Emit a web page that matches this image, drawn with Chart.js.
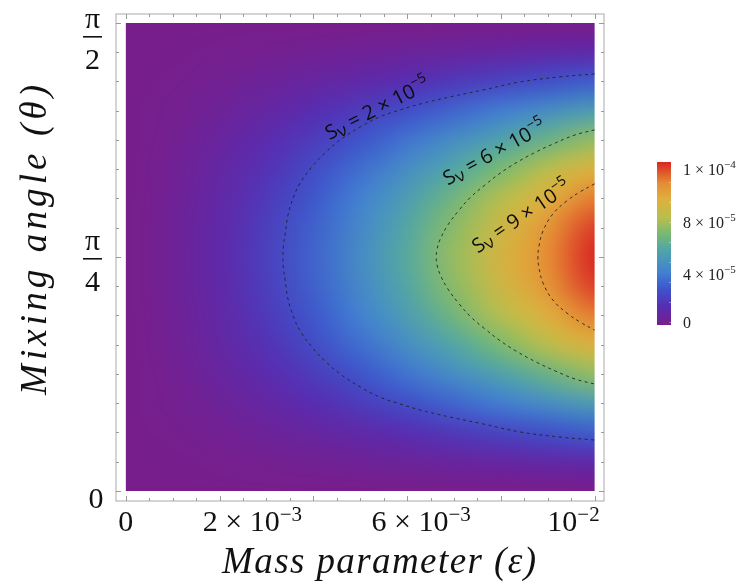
<!DOCTYPE html>
<html>
<head>
<meta charset="utf-8">
<script src="https://cdn.jsdelivr.net/npm/chart.js@4.4.1/dist/chart.umd.min.js"></script>
<style>
html, body { margin: 0; padding: 0; background: #fff; }
#wrap { width: 747px; height: 588px; position: relative; }
</style>
</head>
<body>
<div id="wrap"><canvas id="chart"></canvas></div>
<script>
// grid of the density plot: S_v in units of 1e-5, rows = theta (0 .. pi/2), cols = epsilon
const epsilon = [0, 0.001, 0.002, 0.003, 0.004, 0.005, 0.006, 0.007, 0.008, 0.009, 0.010];
const theta = [0, 0.0982, 0.1963, 0.2945, 0.3927, 0.4909, 0.5890, 0.6872, 0.7854,
               0.8836, 0.9817, 1.0799, 1.1781, 1.2763, 1.3744, 1.4726, 1.5708];
const sv = [
  [0, 0,    0,    0,    0,    0,    0,    0,    0,    0,    0    ],
  [0, 0.03, 0.09, 0.16, 0.24, 0.35, 0.46, 0.58, 0.70, 0.83, 0.95 ],
  [0, 0.08, 0.23, 0.42, 0.65, 0.92, 1.22, 1.55, 1.87, 2.21, 2.54 ],
  [0, 0.14, 0.40, 0.74, 1.15, 1.64, 2.17, 2.74, 3.32, 3.91, 4.51 ],
  [0, 0.20, 0.57, 1.06, 1.63, 2.33, 3.09, 3.90, 4.72, 5.57, 6.41 ],
  [0, 0.25, 0.73, 1.34, 2.07, 2.95, 3.90, 4.93, 5.97, 7.04, 8.11 ],
  [0, 0.29, 0.85, 1.56, 2.40, 3.43, 4.54, 5.74, 6.94, 8.19, 9.43 ],
  [0, 0.32, 0.92, 1.70, 2.62, 3.73, 4.95, 6.26, 7.57, 8.92, 10.28],
  [0, 0.33, 0.95, 1.75, 2.70, 3.85, 5.10, 6.45, 7.80, 9.20, 10.60],
  [0, 0.32, 0.92, 1.70, 2.62, 3.73, 4.95, 6.26, 7.57, 8.92, 10.28],
  [0, 0.29, 0.85, 1.56, 2.40, 3.43, 4.54, 5.74, 6.94, 8.19, 9.43 ],
  [0, 0.25, 0.73, 1.34, 2.07, 2.95, 3.90, 4.93, 5.97, 7.04, 8.11 ],
  [0, 0.20, 0.57, 1.06, 1.63, 2.33, 3.09, 3.90, 4.72, 5.57, 6.41 ],
  [0, 0.14, 0.40, 0.74, 1.15, 1.64, 2.17, 2.74, 3.32, 3.91, 4.51 ],
  [0, 0.08, 0.23, 0.42, 0.65, 0.92, 1.22, 1.55, 1.87, 2.21, 2.54 ],
  [0, 0.03, 0.09, 0.16, 0.24, 0.35, 0.46, 0.58, 0.70, 0.83, 0.95 ],
  [0, 0,    0,    0,    0,    0,    0,    0,    0,    0,    0    ]
];
const sMax = 10.6;

// dashed contour lines (epsilon, theta)
const c2Eps   = [0.0100, 0.00926, 0.00841, 0.00762, 0.00692, 0.00628, 0.00585, 0.00542, 0.00500,
                 0.00457, 0.00425, 0.00397, 0.00372, 0.00357, 0.00346, 0.00340, 0.00336, 0.00335,
                 0.00336, 0.00340, 0.00346, 0.00357, 0.00372, 0.00397, 0.00425, 0.00457, 0.00500,
                 0.00542, 0.00585, 0.00628, 0.00692, 0.00762, 0.00841, 0.00926, 0.0100];
const c2Theta = [1.400, 1.390, 1.373, 1.346, 1.323, 1.299, 1.279, 1.256, 1.222,
                 1.178, 1.135, 1.088, 1.034, 0.984, 0.927, 0.866, 0.820, 0.785,
                 0.751, 0.705, 0.644, 0.587, 0.537, 0.483, 0.436, 0.393, 0.349,
                 0.315, 0.292, 0.272, 0.248, 0.225, 0.198, 0.181, 0.171];
const c6Eps   = [0.0100, 0.00958, 0.00916, 0.00875, 0.00832, 0.00796, 0.00766, 0.00736, 0.00711,
                 0.00687, 0.00670, 0.00664, 0.00662,
                 0.00664, 0.00670, 0.00687, 0.00711, 0.00736, 0.00766, 0.00796, 0.00832, 0.00875,
                 0.00916, 0.00958, 0.0100];
const c6Theta = [1.212, 1.195, 1.168, 1.138, 1.101, 1.064, 1.027, 0.987, 0.943,
                 0.893, 0.843, 0.812, 0.785,
                 0.758, 0.728, 0.678, 0.628, 0.584, 0.544, 0.507, 0.470, 0.433,
                 0.403, 0.376, 0.359];
const c9Eps   = [0.0100, 0.00969, 0.00941, 0.00911, 0.00890, 0.00881, 0.00879,
                 0.00881, 0.00890, 0.00911, 0.00941, 0.00969, 0.0100];
const c9Theta = [1.031, 1.004, 0.974, 0.930, 0.873, 0.819, 0.785,
                 0.752, 0.698, 0.641, 0.597, 0.567, 0.540];

const contourLabelVal   = ['2', '6', '9'];
const contourLabelEps   = [0.00536, 0.00786, 0.00843];
const contourLabelTheta = [1.2855, 1.1380, 0.9230];
const contourLabelAngle = [-27, -29, -34];

// tick labels
const xTickAt   = [0, 0.0027, 0.0063, 0.00955];
const xTickMain = ['0', '2 × 10', '6 × 10', '10'];
const xTickExp  = ['', '−3', '−3', '−2'];
const yTickAt   = [0, Math.PI / 4, Math.PI / 2];
const yTickNum  = ['0', 'π', 'π'];
const yTickDen  = ['', '4', '2'];
const barMain   = ['1 × 10', '8 × 10', '4 × 10', '0'];
const barExp    = ['−4', '−5', '−5', ''];

const rainbow = [
  [0.00, [120, 30, 140]], [0.11, [88, 44, 176]], [0.215, [62, 82, 202]],
  [0.32, [66, 128, 210]], [0.46, [80, 165, 168]], [0.565, [122, 186, 112]],
  [0.66, [186, 190, 76]], [0.77, [222, 176, 62]], [0.87, [230, 140, 52]],
  [1.00, [216, 38, 36]]
];
function colorAt(f) {
  f = Math.max(0, Math.min(1, f));
  for (let k = 1; k < rainbow.length; k++) {
    if (f <= rainbow[k][0]) {
      const a = rainbow[k - 1], b = rainbow[k];
      const t = (f - a[0]) / (b[0] - a[0]);
      return a[1].map((v, i) => Math.round(v + (b[1][i] - v) * t));
    }
  }
  return rainbow[rainbow.length - 1][1];
}

// draw text pieces (main + superscript etc.) side by side
function drawSegs(ctx, segs, x, y, align) {
  let w = 0;
  segs.forEach(s => { ctx.font = s.font; s.w = ctx.measureText(s.t).width; w += s.w; });
  let cx = align === 'center' ? x - w / 2 : (align === 'right' ? x - w : x);
  ctx.textAlign = 'left';
  segs.forEach(s => { ctx.font = s.font; ctx.fillText(s.t, cx, y + (s.dy || 0)); cx += s.w; });
}

function fitText(ctx, text, x, y, width) {
  ctx.letterSpacing = '0px';
  const w = ctx.measureText(text).width;
  const sp = (width - w) / (text.length - 1);
  ctx.letterSpacing = sp + 'px';
  ctx.textAlign = 'left';
  ctx.fillText(text, x - width / 2, y);
  ctx.letterSpacing = '0px';
}

const SERIF = '"Liberation Serif", "Times New Roman", serif';

const heatmapPlugin = {
  id: 'heatmap',
  beforeDatasetsDraw(chart) {
    const { ctx, scales: { x, y } } = chart;
    const nx = epsilon.length, ny = theta.length;
    const off = document.createElement('canvas');
    off.width = nx; off.height = ny;
    const octx = off.getContext('2d');
    const img = octx.createImageData(nx, ny);
    for (let j = 0; j < ny; j++) {
      for (let i = 0; i < nx; i++) {
        const c = colorAt(sv[j][i] / sMax);
        const p = ((ny - 1 - j) * nx + i) * 4;
        img.data[p] = c[0]; img.data[p + 1] = c[1]; img.data[p + 2] = c[2]; img.data[p + 3] = 255;
      }
    }
    octx.putImageData(img, 0, 0);
    const dx = epsilon[1] - epsilon[0], dy = theta[1] - theta[0];
    const left = x.getPixelForValue(epsilon[0] - dx / 2);
    const right = x.getPixelForValue(epsilon[nx - 1] + dx / 2);
    const top = y.getPixelForValue(theta[ny - 1] + dy / 2);
    const bottom = y.getPixelForValue(theta[0] - dy / 2);
    const x0 = x.getPixelForValue(epsilon[0]), x1 = x.getPixelForValue(epsilon[nx - 1]);
    const y0 = y.getPixelForValue(theta[0]), y1 = y.getPixelForValue(theta[ny - 1]);
    ctx.save();
    ctx.beginPath();
    ctx.rect(x0, y1, x1 - x0, y0 - y1);
    ctx.clip();
    ctx.imageSmoothingEnabled = true;
    ctx.imageSmoothingQuality = 'high';
    ctx.drawImage(off, left, top, right - left, bottom - top);
    ctx.restore();
  }
};

const framePlugin = {
  id: 'frame',
  afterDatasetsDraw(chart) {
    const { ctx, chartArea: a, scales: { x, y } } = chart;
    ctx.save();
    // contour labels
    ctx.fillStyle = '#0c0c0c';
    for (let k = 0; k < contourLabelVal.length; k++) {
      const px = x.getPixelForValue(contourLabelEps[k]);
      const py = y.getPixelForValue(contourLabelTheta[k]);
      ctx.save();
      ctx.translate(px, py);
      ctx.rotate(contourLabelAngle[k] * Math.PI / 180);
      const f = '"Open Sans", "Noto Sans", sans-serif';
      drawSegs(ctx, [
        { t: 'S', font: '20px ' + f },
        { t: 'ν', font: '17px ' + f, dy: 3 },
        { t: ' = ' + contourLabelVal[k] + ' × 10', font: '20px ' + f },
        { t: '−5', font: '14px ' + f, dy: -9 }
      ], 0, 7, 'center');
      ctx.restore();
    }
    // frame
    ctx.strokeStyle = '#b8b8b8';
    ctx.lineWidth = 1.2;
    ctx.strokeRect(a.left, a.top, a.right - a.left, a.bottom - a.top);
    ctx.strokeStyle = '#9a9a9a';
    ctx.lineWidth = 1;
    ctx.beginPath();
    for (let v = 0; v <= 0.01 + 1e-9; v += 0.0005) {
      const px = Math.round(x.getPixelForValue(v)) + 0.5;
      const len = Math.abs((v / 0.002) - Math.round(v / 0.002)) < 1e-6 ? 5 : 3;
      ctx.moveTo(px, a.bottom); ctx.lineTo(px, a.bottom - len);
      ctx.moveTo(px, a.top); ctx.lineTo(px, a.top + len);
    }
    for (let k = 0; k <= 16; k++) {
      const py = Math.round(y.getPixelForValue(k * Math.PI / 32)) + 0.5;
      const len = k % 8 === 0 ? 5 : 3;
      ctx.moveTo(a.left, py); ctx.lineTo(a.left + len, py);
      ctx.moveTo(a.right, py); ctx.lineTo(a.right - len, py);
    }
    ctx.stroke();
    ctx.restore();
  },
  afterDraw(chart) {
    const { ctx, scales: { x, y } } = chart;
    ctx.save();
    ctx.fillStyle = '#111';
    ctx.textBaseline = 'alphabetic';
    // x tick labels
    for (let k = 0; k < xTickAt.length; k++) {
      const px = x.getPixelForValue(xTickAt[k]);
      const segs = [{ t: xTickMain[k], font: '30px ' + SERIF }];
      if (xTickExp[k]) segs.push({ t: xTickExp[k], font: '21px ' + SERIF, dy: -10 });
      drawSegs(ctx, segs, px, 531, 'center');
    }
    // y tick labels (fractions of pi)
    for (let k = 0; k < yTickAt.length; k++) {
      let py = y.getPixelForValue(yTickAt[k]);
      ctx.font = '30px ' + SERIF;
      ctx.textAlign = 'center';
      if (!yTickDen[k]) {
        ctx.fillText(yTickNum[k], 96, py + 17);
        continue;
      }
      py = Math.max(py + 2, 37);
      ctx.fillText(yTickNum[k], 92.5, py - 9);
      ctx.fillRect(83, py - 1, 19, 1.6);
      ctx.fillText(yTickDen[k], 92.5, py + 32);
    }
    // axis titles
    ctx.font = 'italic 37px ' + SERIF;
    fitText(ctx, 'Mass parameter (ε)', 379, 573, 314);
    ctx.save();
    ctx.translate(46, 240);
    ctx.rotate(-Math.PI / 2);
    fitText(ctx, 'Mixing angle (θ)', 0, 0, 310);
    ctx.restore();
    // colour bar
    const bx = 657, bw = 14, bt = 162, bb = 325;
    const g = ctx.createLinearGradient(0, bb, 0, bt);
    rainbow.forEach(s => g.addColorStop(s[0], 'rgb(' + s[1].join(',') + ')'));
    ctx.fillStyle = g;
    ctx.fillRect(bx, bt, bw, bb - bt);
    ctx.strokeStyle = 'rgba(255,255,255,0.35)';
    ctx.lineWidth = 1;
    ctx.beginPath();
    for (let yy = bt + 20; yy < bb; yy += 20) {
      ctx.moveTo(bx + bw - 2, yy + 0.5); ctx.lineTo(bx + bw, yy + 0.5);
    }
    ctx.stroke();
    ctx.fillStyle = '#222';
    const barBase = [175, 228, 280, 328];
    for (let k = 0; k < barMain.length; k++) {
      const segs = [{ t: barMain[k], font: '16px ' + SERIF }];
      if (barExp[k]) segs.push({ t: barExp[k], font: '11px ' + SERIF, dy: -7 });
      drawSegs(ctx, segs, 683, barBase[k], 'left');
    }
    ctx.restore();
  }
};

function pts(ex, th) { return ex.map((e, i) => ({ x: e, y: th[i] })); }
const lineStyle = {
  showLine: true, pointRadius: 0, borderWidth: 1, borderColor: 'rgba(30,30,30,0.85)',
  borderDash: [3, 3.5], tension: 0.4, fill: false
};

new Chart(document.getElementById('chart'), {
  type: 'scatter',
  data: {
    datasets: [
      Object.assign({ label: 'Sv = 2e-5', data: pts(c2Eps, c2Theta) }, lineStyle),
      Object.assign({ label: 'Sv = 6e-5', data: pts(c6Eps, c6Theta) }, lineStyle),
      Object.assign({ label: 'Sv = 9e-5', data: pts(c9Eps, c9Theta) }, lineStyle)
    ]
  },
  options: {
    responsive: true,
    maintainAspectRatio: false,
    animation: false,
    layout: { padding: { left: 116, right: 143, top: 14, bottom: 87 } },
    plugins: { legend: { display: false }, tooltip: { enabled: false } },
    scales: {
      x: { type: 'linear', min: -0.00021, max: 0.0102, display: false },
      y: { type: 'linear', min: -0.0336, max: 1.6010, display: false }
    }
  },
  plugins: [heatmapPlugin, framePlugin]
});
</script>
</body>
</html>
